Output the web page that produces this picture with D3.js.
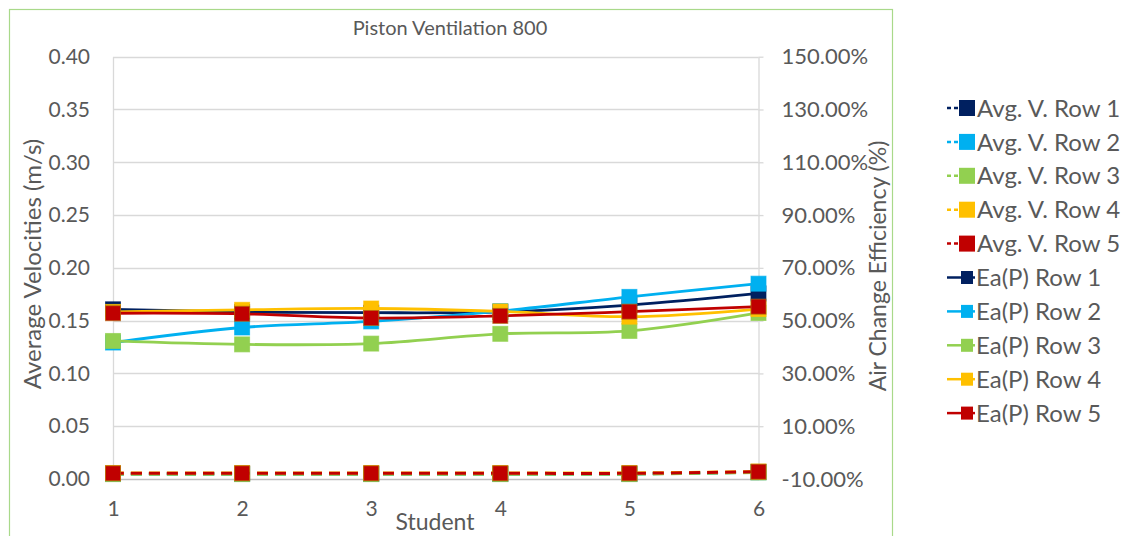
<!DOCTYPE html>
<html>
<head>
<meta charset="utf-8">
<script src="https://cdn.jsdelivr.net/npm/d3@7"></script>
<style>
  html, body { margin: 0; padding: 0; background: #ffffff; }
  svg { display: block; font-family: Lato, "Open Sans", sans-serif; }
</style>
</head>
<body>
<svg id="chart" width="1131" height="536"></svg>
<script>
// Student positions along the x axis
const students = [1, 2, 3, 4, 5, 6];

// Average velocities (m/s), left axis
const avgVRow1 = [0.0050, 0.0050, 0.0050, 0.0050, 0.0050, 0.0066];
const avgVRow2 = [0.0048, 0.0048, 0.0048, 0.0048, 0.0048, 0.0064];
const avgVRow3 = [0.0046, 0.0046, 0.0046, 0.0046, 0.0046, 0.0062];
const avgVRow4 = [0.0057, 0.0057, 0.0057, 0.0057, 0.0057, 0.0071];
const avgVRow5 = [0.0054, 0.0054, 0.0054, 0.0054, 0.0054, 0.0069];

// Air change efficiency Ea(P) in %, right axis
const eaRow1 = [54.3, 53.3, 53.0, 53.3, 55.9, 60.3];
const eaRow2 = [41.7, 47.4, 49.7, 53.6, 59.0, 64.0];
const eaRow3 = [42.3, 41.0, 41.3, 45.0, 46.1, 52.9];
const eaRow4 = [53.3, 54.1, 54.6, 53.5, 51.5, 54.4];
const eaRow5 = [52.8, 52.6, 51.0, 51.8, 53.4, 55.3];

// Tick values
const leftTicks = [0, 0.05, 0.10, 0.15, 0.20, 0.25, 0.30, 0.35, 0.40];
const rightTicks = [-10, 10, 30, 50, 70, 90, 110, 130, 150];

const rowColors = ["#002060", "#00b0f0", "#92d050", "#ffc000", "#c00000"];

const avgSeries = [avgVRow1, avgVRow2, avgVRow3, avgVRow4, avgVRow5].map((v, i) => ({
  name: "Avg. V. Row " + (i + 1), values: v, color: rowColors[i], axis: "left", dashed: true
}));
const eaSeries = [eaRow1, eaRow2, eaRow3, eaRow4, eaRow5].map((v, i) => ({
  name: "Ea(P) Row " + (i + 1), values: v, color: rowColors[i], axis: "right", dashed: false
}));
const allSeries = avgSeries.concat(eaSeries);

const svg = d3.select("#chart");
const textColor = "#595959";
const gridColor = "#d9d9d9";

const plot = { left: 113, right: 758.5, top: 56.7, bottom: 479 };

// Chart frame
svg.append("rect")
  .attr("x", 9.5).attr("y", 9.5)
  .attr("width", 883).attr("height", 560)
  .attr("fill", "#ffffff")
  .attr("stroke", "#a9d98a").attr("stroke-width", 1.2);

const x = d3.scaleLinear().domain([1, 6]).range([plot.left, plot.right]);
const yL = d3.scaleLinear().domain([0, 0.4]).range([plot.bottom, plot.top]);
const yR = d3.scaleLinear().domain([-10, 150]).range([plot.bottom, plot.top]);

// Horizontal gridlines
svg.append("g")
  .selectAll("line")
  .data(leftTicks.slice(1))
  .join("line")
  .attr("x1", plot.left).attr("x2", plot.right)
  .attr("y1", d => Math.round(yL(d)) + 0.5).attr("y2", d => Math.round(yL(d)) + 0.5)
  .attr("stroke", gridColor).attr("stroke-width", 1.3);

// Left axis
const leftAxis = svg.append("g")
  .attr("transform", `translate(${plot.left},0)`)
  .call(d3.axisLeft(yL).tickValues(leftTicks).tickFormat(d3.format(".2f")).tickSize(0).tickPadding(23));
leftAxis.select(".domain").attr("stroke", gridColor).attr("stroke-width", 1.3);

// Right axis
const rightAxis = svg.append("g")
  .attr("transform", `translate(${plot.right},0)`)
  .call(d3.axisRight(yR).tickValues(rightTicks).tickFormat(d => d.toFixed(2) + "%").tickSizeInner(5).tickSizeOuter(0).tickPadding(18));
rightAxis.select(".domain").attr("stroke", gridColor).attr("stroke-width", 1.3);
rightAxis.selectAll(".tick line").attr("stroke", gridColor).attr("stroke-width", 1.3);

// Bottom axis
const bottomAxis = svg.append("g")
  .attr("transform", `translate(0,${plot.bottom})`)
  .call(d3.axisBottom(x).tickValues(students).tickFormat(d3.format("d")).tickSize(0).tickPadding(22));
bottomAxis.select(".domain").attr("stroke", "#bfbfbf").attr("stroke-width", 1.3);

[leftAxis, rightAxis, bottomAxis].forEach(g => {
  g.selectAll(".tick text")
    .attr("fill", textColor)
    .style("font-size", "21px")
    .style("font-family", "Lato, 'Open Sans', sans-serif");
});
rightAxis.selectAll(".tick text").style("font-size", "22px");

// Titles
svg.append("text")
  .attr("x", 450).attr("y", 35)
  .attr("text-anchor", "middle")
  .attr("fill", textColor)
  .style("font-size", "20px")
  .text("Piston Ventilation 800");

svg.append("text")
  .attr("x", 435).attr("y", 530)
  .attr("text-anchor", "middle")
  .attr("fill", textColor)
  .style("font-size", "23px")
  .text("Student");

svg.append("text")
  .attr("transform", "translate(41,264) rotate(-90)")
  .attr("text-anchor", "middle")
  .attr("fill", textColor)
  .style("font-size", "24px")
  .text("Average Velocities (m/s)");

svg.append("text")
  .attr("transform", "translate(886,266) rotate(-90)")
  .attr("text-anchor", "middle")
  .attr("fill", textColor)
  .style("font-size", "23px")
  .text("Air Change Efficiency (%)");

// Series lines and markers
const markerSize = 15;
allSeries.forEach(s => {
  const yScale = s.axis === "left" ? yL : yR;
  const pts = students.map((st, i) => [x(st), yScale(s.values[i])]);
  const line = d3.line().curve(d3.curveCatmullRom.alpha(0.5));
  const g = svg.append("g");
  g.append("path")
    .attr("d", line(pts))
    .attr("fill", "none")
    .attr("stroke", s.color)
    .attr("stroke-width", s.dashed ? 3 : 2.8)
    .attr("stroke-dasharray", s.dashed ? "11 7" : null)
    .attr("stroke-linecap", "butt");
  g.selectAll("rect")
    .data(pts)
    .join("rect")
    .attr("x", d => d[0] - markerSize / 2)
    .attr("y", d => d[1] - markerSize / 2)
    .attr("width", markerSize).attr("height", markerSize)
    .attr("fill", s.color)
    .attr("stroke", s.color === "#c00000" ? "#b06a10" : s.color)
    .attr("stroke-opacity", 0.7)
    .attr("stroke-width", 1);
});

// Legend
const legend = svg.append("g").attr("transform", "translate(945,108)");
const legendStep = 33.9;
allSeries.forEach((s, i) => {
  const row = legend.append("g").attr("transform", `translate(0,${i * legendStep})`);
  row.append("line")
    .attr("x1", 2).attr("x2", s.dashed ? 18 : 30)
    .attr("y1", 0).attr("y2", 0)
    .attr("stroke", s.color).attr("stroke-width", 2.5)
    .attr("stroke-dasharray", s.dashed ? "4 3" : null);
  row.append("rect")
    .attr("x", s.dashed ? 14 : 16).attr("y", s.dashed ? -8 : -6.5)
    .attr("width", s.dashed ? 16 : 12).attr("height", s.dashed ? 16 : 13)
    .attr("fill", s.color);
  row.append("text")
    .attr("x", s.dashed ? 32 : 31).attr("y", 0)
    .attr("dy", "0.36em")
    .attr("fill", textColor)
    .style("font-size", "24px")
    .text(s.name);
});
</script>
</body>
</html>
